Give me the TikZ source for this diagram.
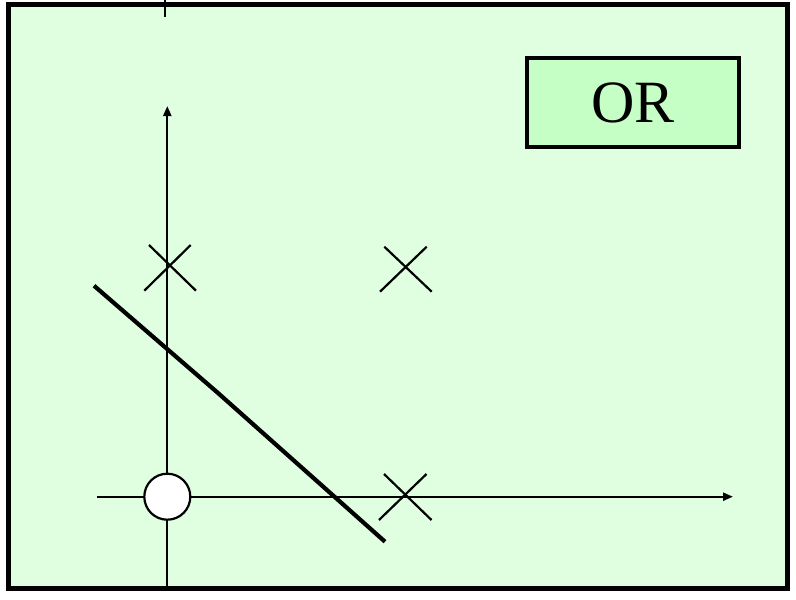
\documentclass[tikz,border=0pt]{standalone}
\usepackage{fontspec}
\setmainfont{Liberation Serif}
\usetikzlibrary{arrows.meta}
\definecolor{bgreen}{HTML}{E0FFE0}
\definecolor{boxgreen}{HTML}{C6FFC6}
\tikzset{
  frame/.style={draw=black, line width=4.5pt, fill=bgreen},
  axis/.style={draw=black, line width=2.2pt, -{Triangle[length=10pt,width=8pt]}},
  plainaxis/.style={draw=black, line width=2.2pt},
  crossline/.style={draw=black, line width=2.2pt},
  sepline/.style={draw=black, line width=4.2pt},
  zeropt/.style={circle, draw=black, line width=2.2pt, fill=white, minimum size=46pt, inner sep=0pt},
  titlebox/.style={draw=black, line width=4pt, fill=boxgreen, minimum width=212pt, minimum height=89pt, inner sep=0pt, font=\fontsize{60}{62}\selectfont}
}
\begin{document}
\begin{tikzpicture}[x=1pt,y=-1pt]
\useasboundingbox (0,0) rectangle (796,600);
\fill[white] (0,0) rectangle (796,600);
\path[frame] (8.5,4.3) rectangle (787.5,588.7);
% top tick
\coordinate (tt1) at (164.8,0);
\coordinate (tt2) at (164.8,17.3);
\path[plainaxis] (tt1) -- (tt2);
% axes
\coordinate (ybot) at (167.3,588.7);
\coordinate (ytop) at (167.3,106);
\coordinate (xleft) at (96.7,496.7);
\coordinate (xright) at (733,496.7);
\path[axis] (ybot) -- (ytop);
\path[axis] (xleft) -- (xright);
% crosses
\coordinate (a1) at (149,245); \coordinate (a2) at (196,290.7);
\coordinate (a3) at (190.7,245); \coordinate (a4) at (144.3,290.7);
\path[crossline] (a1) -- (a2); \path[crossline] (a3) -- (a4);
\coordinate (b1) at (384.3,246.7); \coordinate (b2) at (431.7,291.7);
\coordinate (b3) at (426.7,246.7); \coordinate (b4) at (380,291.7);
\path[crossline] (b1) -- (b2); \path[crossline] (b3) -- (b4);
\coordinate (c1) at (384,474); \coordinate (c2) at (431.5,520);
\coordinate (c3) at (426.5,474); \coordinate (c4) at (379,520);
\path[crossline] (c1) -- (c2); \path[crossline] (c3) -- (c4);
% origin point
\node[zeropt] (origin) at (167.3,496.7) {};
% separating line
\coordinate (s1) at (94,285.7);
\coordinate (s2) at (218,393);
\coordinate (s3) at (385,541.7);
\path[sepline] (s1) -- (s2) -- (s3);
% title
\node[titlebox] (title) at (633,102.5) {OR};
\end{tikzpicture}
\end{document}
